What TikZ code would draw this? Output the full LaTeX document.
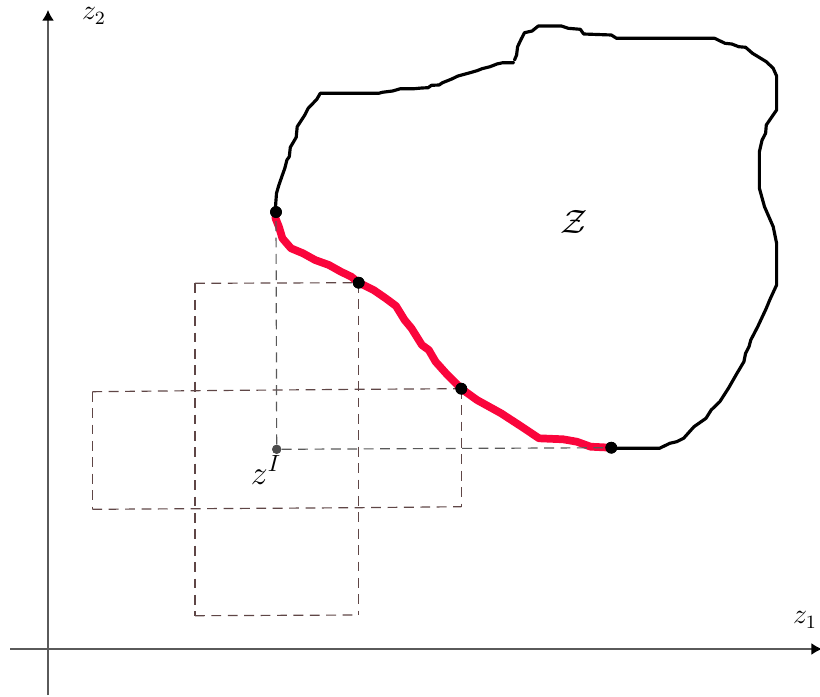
\documentclass[tikz,border=0pt]{standalone}
\usetikzlibrary{arrows.meta}
\definecolor{redpath}{RGB}{250,5,60}
\definecolor{boxcol}{RGB}{95,70,70}
\definecolor{axiscol}{RGB}{90,90,90}
\begin{document}
\begin{tikzpicture}[x=0.015cm,y=-0.015cm,
  axis/.style={draw=axiscol,line width=0.5pt,-{Latex[black,length=4.5pt,width=5pt]}},
  boundary/.style={line width=1.35pt,line join=round,line cap=round},
  front/.style={draw=redpath,line width=3.3pt,line join=round,line cap=round},
  dotpt/.style={circle,fill=black,inner sep=0pt,minimum size=5pt},
  refpt/.style={circle,fill=black!70,inner sep=0pt,minimum size=3.9pt},
  boxline/.style={draw=boxcol,line width=0.5pt,dash pattern=on 4.2pt off 2.8pt},
  guide/.style={draw=black!65,line width=0.5pt,dash pattern=on 4.2pt off 2.8pt},
  lbl/.style={inner sep=0pt,font=\large}]
\useasboundingbox (0,0) rectangle (820,697);
% axes
\coordinate (ya) at (48,695);
\coordinate (yb) at (48,10);
\coordinate (xa) at (10,649);
\coordinate (xb) at (822,649);
\draw[axis] (ya) -- (yb);
\draw[axis] (xa) -- (xb);
\node[lbl] (lz2) at (94,16) {$z_2$};
\node[lbl] (lz1) at (805,620) {$z_1$};
% box coordinates
\coordinate (b1) at (195,283.3);
\coordinate (b2) at (358.7,282.7);
\coordinate (b3) at (92.3,391.7);
\coordinate (b4) at (195,390.7);
\coordinate (b5) at (358.7,389.3);
\coordinate (b6) at (461.3,388.7);
\coordinate (b7) at (92.3,509.3);
\coordinate (b8) at (195,508.7);
\coordinate (b9) at (358.7,507.7);
\coordinate (b10) at (461.3,506.7);
\coordinate (b11) at (195,615.7);
\coordinate (b12) at (358.7,615);
\draw[boxline] (b1) -- (b2);
\draw[boxline] (b3) -- (b4) -- (b5) -- (b6);
\draw[boxline] (b7) -- (b8) -- (b9) -- (b10);
\draw[boxline] (b11) -- (b12);
\draw[boxline] (b3) -- (b7);
\draw[boxline] (b1) -- (b4) -- (b8) -- (b11);
\draw[boxline] (b2) -- (b5) -- (b9) -- (b12);
\draw[boxline] (b6) -- (b10);
% boundary of Z
\draw[boundary] (276,212) -- (275.5,206.7) -- (276.5,193.3) -- (278.9,185) -- (282.4,175) -- (284.8,168.3) -- (286.9,160) -- (289.3,156.7) -- (290.3,147.3) -- (292.7,143.3) -- (296.2,137.3) -- (297.2,126.7) -- (304.8,115) -- (308.2,108.3) -- (316.8,99.3) -- (320.3,93.3) -- (378.8,93.3) -- (382.3,92.3) -- (392.6,91) -- (400.5,88.7) -- (414.3,88.7) -- (421.9,88) -- (428.1,87.7) -- (431.5,85.3) -- (439.1,85) -- (442.5,82.7) -- (451.1,79.3) -- (458,76) -- (470.1,72.7) -- (477,70.7) -- (482.1,68.7) -- (490.1,66.7) -- (496.9,64) -- (502.8,62.7) -- (513.5,62.7)
  (514.5,60) -- (516.6,55) -- (517.6,46.7) -- (521.1,39.3) -- (524.5,32.7) -- (532.1,31) -- (538.3,26) -- (561.3,26) -- (568.2,28.3) -- (580.3,29.3) -- (583.7,34) -- (611.3,35) -- (616.5,38.3) -- (714.6,38.3) -- (725,43.3) -- (731.8,44) -- (738.7,46.7) -- (745.6,47.3) -- (752.5,53.3) -- (766.3,61.7) -- (773.2,68.3) -- (776.6,76) -- (776.6,110) -- (769.7,120) -- (766.3,125) -- (765.6,133.3) -- (762.1,140) -- (759.4,151.7) -- (759.4,188.3) -- (764.5,206.7) -- (773.2,226.7) -- (776.6,243.3) -- (776.6,285) -- (769.7,300) -- (766.3,308.3) -- (757.7,326.7) -- (750.8,340) -- (749,346.7) -- (745.6,353.3) -- (743.9,361.7) -- (737,373.3) -- (728.4,388.3) -- (719.8,401.7) -- (711.2,410) -- (706,418.3) -- (694,426.7) -- (683.6,438.3) -- (676.7,441.7) -- (669.8,443.3) -- (659.5,448.3) -- (618.2,448.3) -- (611.3,447.7);
% Pareto front (black beneath, red on top)
\def\frontpath{(276,212) -- (275.5,218.3) -- (278.9,226.7) -- (282.4,238.3) -- (291,248.3) -- (303,253.3) -- (315.1,260) -- (328.9,265) -- (340.9,271.7) -- (351.3,276.7) -- (358.7,282.7) -- (373.6,290) -- (385.7,298.3) -- (396,306) -- (404.6,320) -- (411.5,328.3) -- (421.9,345) -- (428.8,350) -- (435.6,361.7) -- (446,373.3) -- (461.3,388.7) -- (477,400) -- (501.1,413.3) -- (521.7,426.7) -- (539,438.3) -- (563.1,439.3) -- (576.8,441.7) -- (590.6,446.7) -- (611.3,447.7)}
\draw[boundary] \frontpath;
\draw[front] \frontpath;
% points
\node[refpt] (zI) at (276.7,449.3) {};
\node[dotpt] (p1) at (276,212) {};
\node[dotpt] (p2) at (358.7,282.7) {};
\node[dotpt] (p3) at (461.3,388.7) {};
\node[dotpt] (p4) at (611.3,447.7) {};
\draw[guide] (zI) -- (p1);
\draw[guide] (zI) -- (p4);
\node[refpt] at (zI) {};
\node[dotpt] at (p1) {};
\node[dotpt] at (p2) {};
\node[dotpt] at (p3) {};
\node[dotpt] at (p4) {};
\node[lbl,font=\Large] (lzI) at (266,470) {$z^I$};
\node[lbl,font=\Large] (lZ) at (574,222) {$\mathcal{Z}$};
\end{tikzpicture}
\end{document}
